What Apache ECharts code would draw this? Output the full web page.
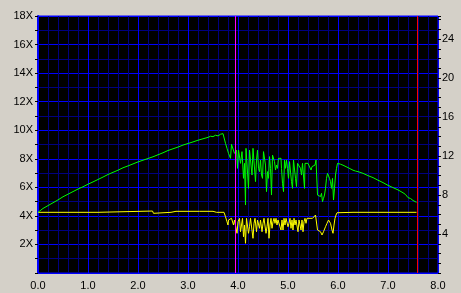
<!DOCTYPE html>
<html>
<head>
<meta charset="utf-8">
<script src="https://cdn.jsdelivr.net/npm/echarts@6/dist/echarts.min.js"></script>
<style>
html,body{margin:0;padding:0;background:#D4D0C8;}
#c{width:461px;height:293px;}
</style>
</head>
<body>
<div id="c"></div>
<script>
// Read speed (X), left axis
var greenSpeed = [
 [0,4.25],[0.1,4.52],[0.2,4.72],[0.3,4.92],[0.4,5.12],[0.5,5.34],[0.6,5.52],[0.7,5.70],[0.8,5.88],[0.9,6.04],
 [1.0,6.22],[1.1,6.38],[1.2,6.55],[1.3,6.72],[1.4,6.90],[1.5,7.05],[1.6,7.20],[1.7,7.37],[1.8,7.50],[1.9,7.64],
 [2.0,7.78],[2.1,7.90],[2.2,8.02],[2.3,8.14],[2.4,8.28],[2.5,8.42],[2.6,8.58],[2.7,8.70],[2.8,8.82],[2.9,8.96],
 [3.0,9.07],[3.1,9.18],[3.2,9.30],[3.3,9.40],[3.4,9.50],[3.45,9.58],[3.5,9.55],[3.55,9.65],[3.6,9.60],[3.65,9.72],[3.7,9.76],
 [3.75,9.08],[3.78,8.73],[3.81,8.38],[3.85,8.03],[3.87,9.01],[3.91,9.01],[3.93,8.38],[3.95,8.50],[3.97,8.61],[3.99,7.33],
 [4.01,8.61],[4.05,7.68],[4.08,8.50],[4.10,8.50],[4.11,6.63],[4.13,7.68],[4.15,4.76],[4.16,8.73],[4.19,8.73],[4.21,5.93],
 [4.23,8.61],[4.26,8.61],[4.28,6.86],[4.30,8.73],[4.33,8.73],[4.35,6.40],[4.37,7.91],[4.39,8.61],[4.41,7.33],[4.43,7.10],
 [4.45,7.91],[4.47,6.86],[4.49,6.63],[4.51,8.50],[4.53,8.50],[4.55,7.56],[4.57,5.70],[4.59,7.10],[4.61,6.63],[4.63,8.15],
 [4.65,7.33],[4.67,5.46],[4.69,8.26],[4.71,8.26],[4.73,7.80],[4.75,7.21],[4.77,7.56],[4.79,7.33],[4.81,8.03],[4.83,8.03],
 [4.84,8.15],[4.86,8.03],[4.87,7.33],[4.89,6.28],[4.91,5.70],[4.93,7.91],[4.95,7.33],[4.97,7.91],[4.99,7.33],[5.01,6.63],
 [5.03,7.80],[5.05,7.91],[5.07,6.40],[5.09,5.93],[5.11,7.91],[5.13,7.91],[5.15,6.63],[5.17,6.05],[5.19,7.68],[5.21,7.80],
 [5.23,7.68],[5.25,7.33],[5.27,6.86],[5.29,7.68],[5.31,7.56],[5.33,5.93],[5.34,7.68],[5.36,7.68],[5.38,7.80],[5.40,7.68],
 [5.42,7.80],[5.44,7.56],[5.46,7.21],[5.48,7.45],[5.50,7.33],[5.52,7.45],[5.54,7.56],[5.56,7.91],[5.57,8.03],[5.59,5.46],
 [5.61,5.35],[5.63,5.46],[5.65,5.35],[5.67,5.58],[5.69,5.00],[5.71,5.23],[5.73,5.46],[5.75,5.93],[5.77,6.63],[5.79,6.98],
 [5.81,6.86],[5.83,6.63],[5.85,6.40],[5.87,5.93],[5.89,6.63],[5.91,5.11],[5.93,5.93],[5.95,6.86],[5.97,7.33],[5.99,7.68],
 [6.01,7.68],[6.05,7.62],[6.1,7.55],[6.2,7.38],[6.3,7.20],[6.35,7.14],[6.4,7.10],[6.5,6.98],[6.6,6.82],[6.7,6.68],
 [6.8,6.50],[6.9,6.33],[7.0,6.14],[7.1,5.98],[7.2,5.82],[7.3,5.62],[7.35,5.50],[7.4,5.28],[7.45,5.22],[7.5,5.08],[7.57,4.95]
];
// Rotation curve (yellow), plotted in left-axis units
var yellowCurve = [
 [0,4.25],[1.2,4.25],[1.21,4.34],[2.29,4.34],[2.31,4.18],[2.33,4.25],[2.66,4.25],[2.68,4.32],[2.76,4.32],[2.77,4.22],
 [2.79,4.32],[2.90,4.32],[2.91,4.25],[2.93,4.32],[3.00,4.32],[3.01,4.22],[3.03,4.32],[3.23,4.32],[3.24,4.22],[3.26,4.32],
 [3.36,4.32],[3.37,4.22],[3.39,4.32],[3.50,4.32],[3.51,4.22],[3.53,4.30],[3.57,4.25],[3.72,4.25],
 [3.75,3.94],[3.78,3.59],[3.80,3.36],[3.81,3.71],[3.85,3.71],[3.87,3.83],[3.89,3.83],[3.91,3.36],[3.93,3.71],[3.95,3.83],
 [3.98,2.78],[4.00,3.59],[4.03,3.83],[4.05,2.89],[4.07,3.36],[4.09,3.83],[4.11,2.54],[4.13,3.36],[4.15,2.08],[4.17,3.83],
 [4.20,3.83],[4.21,2.78],[4.23,3.24],[4.25,3.83],[4.28,3.83],[4.30,2.43],[4.32,3.48],[4.34,3.83],[4.37,2.89],[4.39,3.71],
 [4.41,3.83],[4.43,3.13],[4.45,3.71],[4.48,2.89],[4.50,3.48],[4.52,3.83],[4.54,3.83],[4.56,2.78],[4.58,3.24],[4.60,3.83],
 [4.62,2.43],[4.64,3.36],[4.66,3.83],[4.68,3.13],[4.70,3.59],[4.72,3.83],[4.74,3.48],[4.76,3.83],[4.78,3.36],[4.80,3.71],
 [4.82,3.83],[4.84,3.24],[4.86,3.01],[4.88,3.71],[4.90,3.01],[4.92,3.83],[4.94,3.36],[4.96,3.83],[4.98,3.83],[5.00,3.24],
 [5.02,3.48],[5.04,3.83],[5.06,3.13],[5.08,3.71],[5.10,3.01],[5.12,3.83],[5.14,3.36],[5.16,3.71],[5.18,3.83],[5.20,2.89],
 [5.22,3.71],[5.24,3.83],[5.26,3.01],[5.28,3.71],[5.30,2.89],[5.32,3.59],[5.34,3.83],[5.36,3.48],[5.38,3.83],[5.40,3.83],
 [5.42,3.94],[5.44,3.83],[5.47,3.71],[5.49,3.83],[5.52,3.71],[5.55,4.06],[5.57,4.06],[5.59,3.01],[5.61,3.01],[5.65,2.89],
 [5.68,2.66],[5.71,2.89],[5.75,3.24],[5.78,3.48],[5.81,3.71],[5.85,3.48],[5.88,3.01],[5.90,2.78],[5.92,3.36],[5.94,3.83],
 [5.96,4.06],[5.98,4.22],[6.3,4.25],[6.31,4.28],[6.32,4.25],[6.66,4.25],[6.67,4.28],[6.68,4.25],[7.0,4.25],[7.01,4.28],
 [7.02,4.25],[7.38,4.25],[7.40,4.15],[7.42,4.25],[7.57,4.25]
];
var markerPositions = [3.95, 7.59];
var markerColors = ['#ff00ff', '#ff0000'];
var xTickLabels = ['0.0','1.0','2.0','3.0','4.0','5.0','6.0','7.0','8.0'];

var FONT = 'Liberation Sans';
var chart = echarts.init(document.getElementById('c'), null, {renderer: 'canvas'});
var option = {
  animation: false,
  backgroundColor: '#D4D0C8',
  grid: {left: 38, top: 16, right: 23, bottom: 20, show: true, backgroundColor: '#000000', borderColor: '#0000ff', borderWidth: 1},
  xAxis: {
    type: 'value', min: 0, max: 8, interval: 1,
    axisLine: {show: false}, axisTick: {show: false},
    axisLabel: {color: '#000', fontSize: 11, fontFamily: FONT, margin: 7,
      formatter: function (v) { return xTickLabels[Math.round(v)]; }},
    splitLine: {show: true, lineStyle: {color: '#0000ff', width: 1}},
    minorTick: {show: false, splitNumber: 5},
    minorSplitLine: {show: true, lineStyle: {color: '#000080', width: 1}}
  },
  yAxis: [{
    type: 'value', min: 0, max: 18, interval: 2, position: 'left',
    axisLine: {show: true, lineStyle: {color: '#0000ff', width: 2}},
    axisTick: {show: true, length: 3, lineStyle: {color: '#000'}},
    minorTick: {show: true, splitNumber: 2, length: 3, lineStyle: {color: '#000'}},
    axisLabel: {color: '#000', fontSize: 11, fontFamily: FONT, margin: 5,
      formatter: function (v) { return v === 0 ? '' : v + 'X'; }},
    splitLine: {show: true, lineStyle: {color: '#0000ff', width: 1}},
    minorSplitLine: {show: true, lineStyle: {color: '#000080', width: 1}}
  }, {
    type: 'value', min: 0, max: 26.36, interval: 1, position: 'right',
    axisLine: {show: false},
    axisTick: {show: true, length: 3, lineStyle: {color: '#000'}},
    axisLabel: {color: '#000', fontSize: 11, fontFamily: FONT, margin: 4,
      formatter: function (v) { return (v > 0 && Math.abs(v % 4) < 1e-9) ? String(v) : ''; }},
    splitLine: {show: false}
  }],
  series: [{
    type: 'line', data: yellowCurve, yAxisIndex: 0, showSymbol: false, symbol: 'none',
    lineStyle: {color: '#ffff00', width: 1}, z: 3
  }, {
    type: 'line', data: greenSpeed, yAxisIndex: 0, showSymbol: false, symbol: 'none',
    lineStyle: {color: '#00ff00', width: 1}, z: 4
  }, {
    type: 'line', data: [], yAxisIndex: 0, z: 5,
    markLine: {
      silent: true, symbol: ['none', 'none'], label: {show: false},
      lineStyle: {type: 'solid', width: 1},
      data: markerPositions.map(function (x, i) { return {xAxis: x, lineStyle: {color: markerColors[i], type: 'solid', width: 1}}; })
    }
  }]
};
chart.setOption(option);
</script>
</body>
</html>
